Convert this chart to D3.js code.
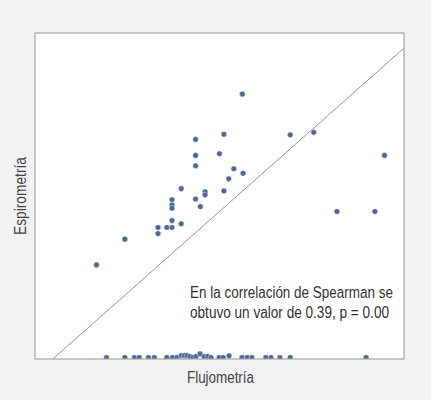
<!DOCTYPE html>
<html>
<head>
<meta charset="utf-8">
<script src="https://cdn.jsdelivr.net/npm/d3@7"></script>
<style>
  html, body { margin: 0; padding: 0; background: #f2f2f4; }
  svg { display: block; }
</style>
</head>
<body>
<svg id="chart" width="431" height="400"></svg>
<script>
// Flujometría (x) values
const flujo = [
  51.0, 46.0, 38.3, 38.3, 44.8, 38.3, 48.7, 51.2, 47.3, 34.4,
  46.0, 40.9, 40.9, 38.3, 31.9, 31.9, 31.9, 39.6, 31.9, 34.4,
  28.1, 30.5, 31.9, 28.1, 19.1, 11.4, 64.0, 70.4, 89.6, 76.7, 87.0,
  14.1, 19.1, 21.7, 23.0, 25.5, 27.1, 30.5, 32.0, 33.2, 34.4,
  35.2, 36.0, 36.8, 37.6, 38.4, 39.5, 40.6, 41.6, 42.5, 44.7,
  45.8, 47.4, 50.9, 52.3, 53.6, 57.4, 58.8, 61.2, 64.0, 84.6
];
// Espirometría (y) values
const espiro = [
  80.8, 68.5, 66.9, 62.0, 62.5, 58.8, 57.9, 56.5, 54.8, 51.8,
  51.1, 50.8, 49.9, 48.6, 48.4, 46.8, 45.8, 46.3, 42.0, 41.0,
  39.9, 39.9, 39.9, 38.0, 36.3, 28.4, 68.3, 69.1, 62.0, 44.8, 44.8,
  0, 0, 0, 0, 0, 0, 0, 0, 0, 0.6,
  0.6, 0.6, 0.3, 0, 0.3, 1.1, 0.3, 0.3, 0, 0,
  0, 0.5, 0, 0, 0, 0, 0, 0, 0, 0
];
const xDomain = [-5.3, 94.9];
const yDomain = [-0.46, 99.54];
const xTitle = "Flujometría";
const yTitle = "Espirometría";
const noteLines = [
  "En la correlación de Spearman se",
  "obtuvo un valor de 0.39, p = 0.00"
];

const svg = d3.select("#chart");
const pL = 35, pR = 404, pT = 33, pB = 359;
const x = d3.scaleLinear().domain(xDomain).range([pL, pR]);
const y = d3.scaleLinear().domain(yDomain).range([pB, pT]);

// plot background
svg.append("rect")
  .attr("x", pL).attr("y", pT)
  .attr("width", pR - pL).attr("height", pB - pT)
  .attr("fill", "#ffffff");

svg.append("clipPath").attr("id", "clip")
  .append("rect")
  .attr("x", pL).attr("y", pT)
  .attr("width", pR - pL).attr("height", pB - pT);

const g = svg.append("g").attr("clip-path", "url(#clip)");

// identity reference line y = x
const lo = Math.max(xDomain[0], yDomain[0]);
const hi = Math.min(xDomain[1], yDomain[1]);
g.append("line")
  .attr("x1", x(lo)).attr("y1", y(lo))
  .attr("x2", x(hi)).attr("y2", y(hi))
  .attr("stroke", "#8a8a8a")
  .attr("stroke-width", 0.9);

// points
g.selectAll("circle.pt")
  .data(flujo.map((v, i) => [v, espiro[i]]))
  .join("circle")
  .attr("class", "pt")
  .attr("cx", d => x(d[0]))
  .attr("cy", d => y(d[1]))
  .attr("r", 2.8)
  .attr("fill", "#4d6896")
  .attr("stroke", "#ffffff")
  .attr("stroke-width", 0.4);

// frame
svg.append("rect")
  .attr("x", pL).attr("y", pT)
  .attr("width", pR - pL).attr("height", pB - pT)
  .attr("fill", "none")
  .attr("stroke", "#a5a5a5")
  .attr("stroke-width", 1.2);

const font = "'Liberation Sans Narrow', 'Arial Narrow', 'Liberation Sans', Arial, sans-serif";

// annotation
const noteWidths = [203, 199];
noteLines.forEach((t, i) => {
  svg.append("text")
    .attr("x", 190)
    .attr("y", 298 + i * 19.5)
    .attr("font-family", font)
    .attr("font-size", 16)
    .attr("fill", "#333333")
    .attr("textLength", noteWidths[i])
    .attr("lengthAdjust", "spacingAndGlyphs")
    .text(t);
});

// axis titles
svg.append("text")
  .attr("x", 187)
  .attr("y", 383)
  .attr("font-family", font)
  .attr("font-size", 16)
  .attr("fill", "#444444")
  .attr("textLength", 67)
  .attr("lengthAdjust", "spacingAndGlyphs")
  .text(xTitle);

svg.append("text")
  .attr("transform", "translate(26, 235) rotate(-90)")
  .attr("font-family", font)
  .attr("font-size", 16)
  .attr("fill", "#444444")
  .attr("textLength", 78)
  .attr("lengthAdjust", "spacingAndGlyphs")
  .text(yTitle);
</script>
</body>
</html>
